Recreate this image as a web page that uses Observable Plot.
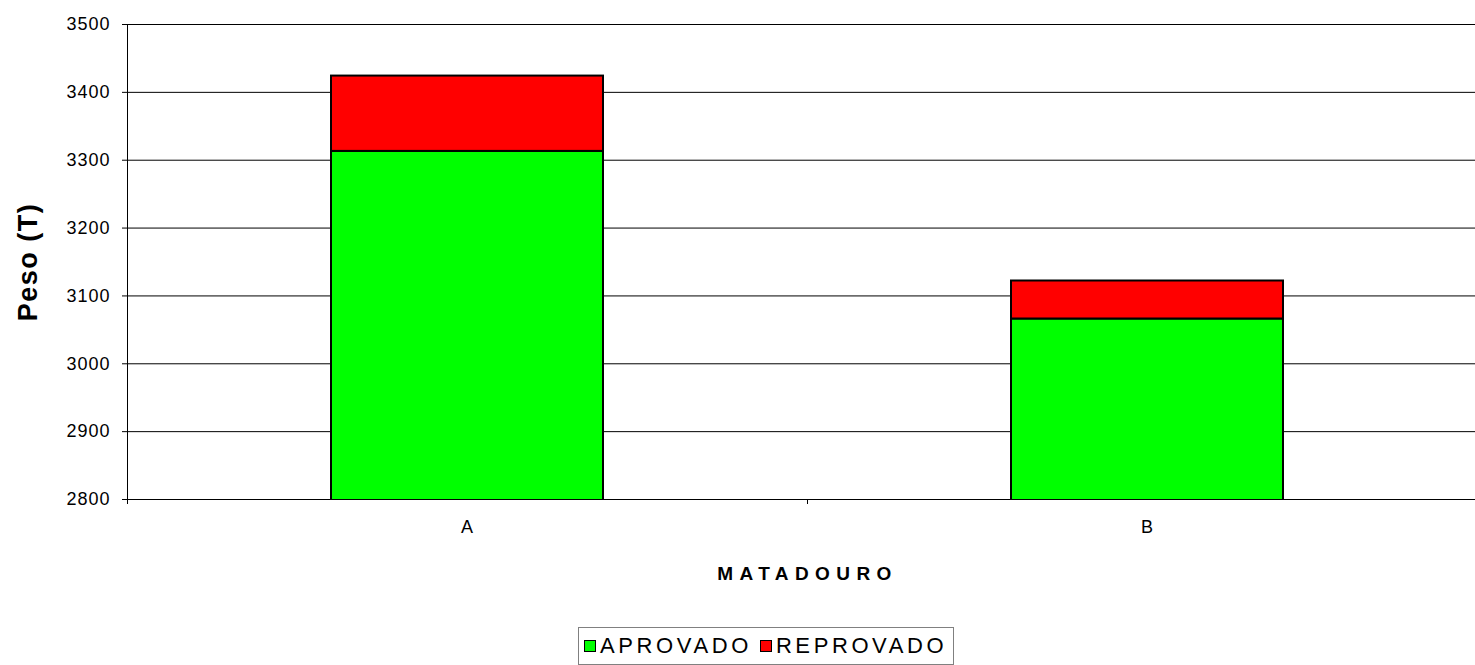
<!DOCTYPE html>
<html>
<head>
<meta charset="utf-8">
<script src="https://cdn.jsdelivr.net/npm/d3@7"></script>
<script src="https://cdn.jsdelivr.net/npm/@observablehq/plot@0.6"></script>
<style>
  html, body { margin: 0; padding: 0; background: white; }
  #wrap { position: relative; width: 1475px; height: 665px; font-family: "Liberation Sans", Arial, sans-serif; }
  #wrap svg { font-family: "Liberation Sans", Arial, sans-serif; }
  g[aria-label="y-axis label"] text { font-size: 27px; font-weight: bold; letter-spacing: 1.5px; }
  g[aria-label="x-axis label"] text { font-size: 19px; font-weight: bold; letter-spacing: 6.4px; }
  g[aria-label="y-axis tick label"] text, g[aria-label="x-axis tick label"] text { letter-spacing: 1px; }
  #legend { position: absolute; left: 578px; top: 627px; height: 36px; border: 1px solid #808080; background: white;
            display: flex; align-items: center; padding: 0 6px 0 5px; font-size: 22px; letter-spacing: 3.6px; color: #000; }
  #legend .sw { width: 10px; height: 10px; border: 1.5px solid #000; margin-right: 4px; display: inline-block; }
  #legend .item { display: flex; align-items: center; margin-right: 8px; }
  #legend .item:last-child { margin-right: 0; }
</style>
</head>
<body>
<div id="wrap"></div>
<script>
const categories = ["A", "B"];
const series = ["APROVADO", "REPROVADO"];
const aprovado = [3313, 3066];
const reprovado = [111, 56];
const colors = ["#00FF00", "#FF0000"];
const yTicks = [2800, 2900, 3000, 3100, 3200, 3300, 3400, 3500];
const yDomain = [2800, 3500];

const data = [];
categories.forEach((c, i) => {
  data.push({cat: c, series: series[0], value: aprovado[i]});
  data.push({cat: c, series: series[1], value: reprovado[i]});
});

const width = 1475, height = 610;
const marginLeft = 127, marginRight = -12;
const paddingInner = 0.6, paddingOuter = 0.3;
const step = (width - marginLeft - marginRight) / (categories.length - paddingInner + 2 * paddingOuter);

const chart = Plot.plot({
  width, height,
  marginLeft, marginRight,
  marginTop: 24,
  marginBottom: 111,
  style: {fontSize: "18px", fontFamily: "Liberation Sans, Arial, sans-serif", color: "#000", background: "white"},
  x: {domain: categories, paddingInner, paddingOuter},
  y: {domain: yDomain},
  color: {domain: series, range: colors},
  marks: [
    Plot.ruleY(yTicks, {stroke: "#000", strokeWidth: 1}),
    Plot.barY(data, Plot.stackY({x: "cat", y: "value", fill: "series", stroke: "#000", strokeWidth: 2, clip: true})),
    Plot.frame({anchor: "left", stroke: "#000"}),
    Plot.ruleX(categories, {x: d => d, y1: yDomain[0], y2: yDomain[0], insetBottom: -5, dx: -step / 2, stroke: "#000"}),
    Plot.axisY({ticks: yTicks, tickSize: 5, tickPadding: 12, tickFormat: d => String(d), label: "Peso (T)", labelAnchor: "center", labelArrow: "none", labelOffset: 110}),
    Plot.axisX({tickSize: 0, tickPadding: 21, label: "MATADOURO", labelAnchor: "center", labelArrow: "none", labelOffset: 80})
  ]
});

const wrap = document.getElementById("wrap");
wrap.appendChild(chart);

const legend = document.createElement("div");
legend.id = "legend";
series.forEach((s, i) => {
  const item = document.createElement("span");
  item.className = "item";
  const sw = document.createElement("span");
  sw.className = "sw";
  sw.style.background = colors[i];
  item.appendChild(sw);
  item.appendChild(document.createTextNode(s));
  legend.appendChild(item);
});
wrap.appendChild(legend);
</script>
</body>
</html>
